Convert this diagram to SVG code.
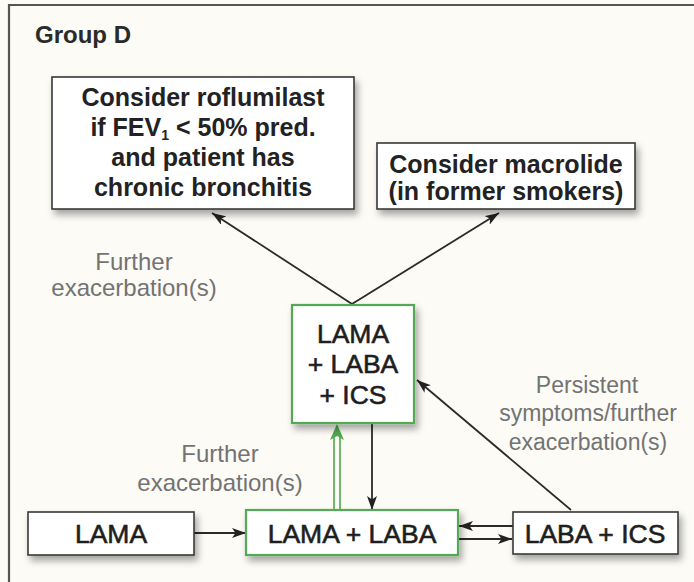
<svg xmlns="http://www.w3.org/2000/svg" width="694" height="582" viewBox="0 0 694 582">
  <defs>
    <filter id="shadow" x="-10%" y="-10%" width="130%" height="140%">
      <feDropShadow dx="3" dy="5" stdDeviation="3.5" flood-color="#000" flood-opacity="0.35"/>
    </filter>
    <marker id="arrow" viewBox="0 0 14 10" refX="14" refY="5" markerWidth="14" markerHeight="10" markerUnits="userSpaceOnUse" orient="auto">
      <path d="M0,0 L14,5 L0,10 L3.5,5 z" fill="#222"/>
    </marker>
    <style>
      .box { fill: #ffffff; stroke: #3a3a3a; stroke-width: 1.6; filter: url(#shadow); }
      .gbox { fill: #ffffff; stroke: #55a855; stroke-width: 2.2; filter: url(#shadow); }
      .bold { font-family: "Liberation Sans", Arial, sans-serif; font-weight: bold; font-size: 25px; fill: #222; text-anchor: middle; }
      .lbl { font-family: "Liberation Sans", Arial, sans-serif; font-size: 26.5px; fill: #1e1e1e; stroke: #1e1e1e; stroke-width: 0.6; text-anchor: middle; }
      .note { font-family: "Liberation Sans", Arial, sans-serif; font-size: 24px; fill: #737373; text-anchor: middle; }
      .note-s { font-family: "Liberation Sans", Arial, sans-serif; font-size: 23px; fill: #737373; text-anchor: middle; }
      .link { fill: none; stroke: #2a2a2a; stroke-width: 1.8; marker-end: url(#arrow); }
    </style>
  </defs>

  <!-- page background and panel frame -->
  <rect x="0" y="0" width="694" height="582" fill="#fcfbf6"/>
  <path d="M9,582 V5 H694" fill="none" stroke="#555" stroke-width="2.2"/>

  <text x="35" y="43" font-family="Liberation Sans, Arial, sans-serif" font-weight="bold" font-size="24px" fill="#2a2a2a">Group D</text>

  <!-- connectors -->
  <g id="connectors">
    <line class="link" x1="352" y1="304" x2="212" y2="213"/>
    <line class="link" x1="352" y1="304" x2="499" y2="213"/>
    <line class="link" x1="571" y1="510" x2="417" y2="380"/>
    <line class="link" x1="372" y1="424" x2="372" y2="510"/>
    <line class="link" x1="194" y1="533" x2="246" y2="533"/>
    <line class="link" x1="513" y1="526" x2="459" y2="526"/>
    <line class="link" x1="458" y1="539" x2="512" y2="539"/>
    <!-- green double-line arrow -->
    <g id="green-arrow">
      <line x1="334" y1="510" x2="334" y2="437" stroke="#5fb35f" stroke-width="1.8"/>
      <line x1="340" y1="510" x2="340" y2="437" stroke="#5fb35f" stroke-width="1.8"/>
      <path d="M337,424 L344,440 L337,436 L330,440 z" fill="#4fa84f"/>
    </g>
  </g>

  <!-- nodes -->
  <g id="roflumilast">
    <rect class="box" x="52" y="77" width="302" height="132"/>
    <text class="bold" x="203" y="106">Consider roflumilast</text>
    <text class="bold" x="203" y="136">if FEV<tspan font-size="14px" dy="4">1</tspan><tspan dy="-4"> &lt; 50% pred.</tspan></text>
    <text class="bold" x="203" y="166">and patient has</text>
    <text class="bold" x="203" y="196">chronic bronchitis</text>
  </g>

  <g id="macrolide">
    <rect class="box" x="377" y="143" width="258" height="66"/>
    <text class="bold" x="506" y="173">Consider macrolide</text>
    <text class="bold" x="506" y="200">(in former smokers)</text>
  </g>

  <g id="lama-laba-ics">
    <rect class="gbox" x="292" y="305" width="122" height="118"/>
    <text class="lbl" x="353" y="343">LAMA</text>
    <text class="lbl" x="353" y="373">+ LABA</text>
    <text class="lbl" x="353" y="404">+ ICS</text>
  </g>

  <g id="lama">
    <rect class="box" x="28" y="512" width="166" height="43"/>
    <text class="lbl" x="111" y="543">LAMA</text>
  </g>

  <g id="lama-laba">
    <rect class="gbox" x="246" y="510" width="212" height="45"/>
    <text class="lbl" x="352" y="543">LAMA + LABA</text>
  </g>

  <g id="laba-ics">
    <rect class="box" x="513" y="512" width="165" height="42"/>
    <text class="lbl" x="595" y="543">LABA + ICS</text>
  </g>

  <!-- edge notes -->
  <g id="notes">
    <text class="note" x="134" y="270">Further</text>
    <text class="note" x="134" y="296">exacerbation(s)</text>
    <text class="note" x="220" y="462">Further</text>
    <text class="note" x="220" y="491">exacerbation(s)</text>
    <text class="note-s" x="587" y="393">Persistent</text>
    <text class="note-s" x="588" y="421">symptoms/further</text>
    <text class="note-s" x="588" y="450">exacerbation(s)</text>
  </g>
</svg>
